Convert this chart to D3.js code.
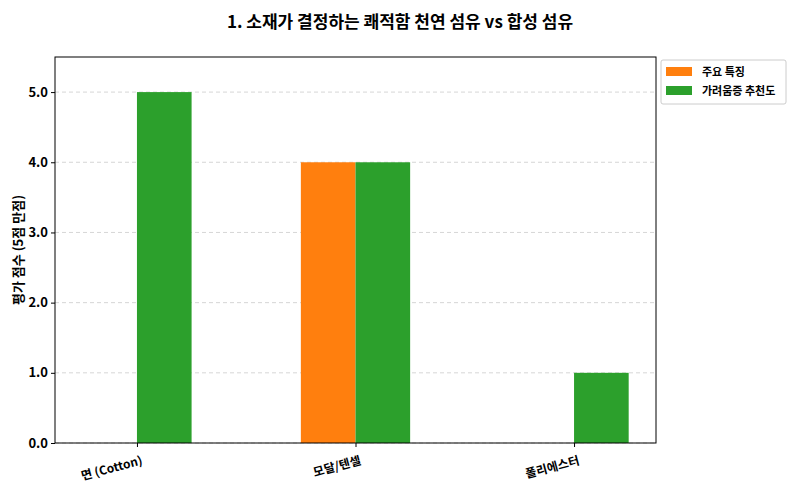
<!DOCTYPE html>
<html><head><meta charset="utf-8">
<script src="https://cdn.jsdelivr.net/npm/d3@7"></script>
<style>body{margin:0;background:#fff}text{font-family:"Noto Sans CJK KR","Noto Sans",sans-serif}</style>
</head><body>
<svg id="c" width="800" height="500"></svg>
<script>
const categories = ["면 (Cotton)", "모달/텐셀", "폴리에스터"];
const seriesNames = ["주요 특징", "가려움증 추천도"];
const featureValues = [0, 4, 0];
const itchValues = [5, 4, 1];
const yTicks = [0, 1, 2, 3, 4, 5];
const colors = ["#ff7f0e", "#2ca02c"];

const svg = d3.select("#c");
const L = 55, R = 656, T = 57, B = 443;
const x = d3.scaleLinear().domain([-0.375, 2.375]).range([L, R]);
const y = d3.scaleLinear().domain([0, 5.5]).range([B, T]);
const w = 0.25;

svg.append("g").selectAll("line").data(yTicks).join("line")
  .attr("x1", L).attr("x2", R).attr("y1", d => y(d)).attr("y2", d => y(d))
  .attr("stroke", "#ccc").attr("stroke-dasharray", "4,3").attr("stroke-width", 0.8);

const series = [featureValues, itchValues];
series.forEach((vals, si) => {
  svg.append("g").selectAll("rect").data(vals).join("rect")
    .attr("x", (d, i) => x(i + (si === 0 ? -w : 0)))
    .attr("width", x(w) - x(0))
    .attr("y", d => y(d)).attr("height", d => B - y(d))
    .attr("fill", colors[si]);
});

svg.append("rect").attr("x", L).attr("y", T).attr("width", R - L).attr("height", B - T)
  .attr("fill", "none").attr("stroke", "#000").attr("stroke-width", 1);

const ya = svg.append("g").attr("transform", `translate(${L},0)`)
  .call(d3.axisLeft(y).tickValues(yTicks).tickSize(4).tickSizeOuter(0));
ya.select(".domain").remove();
ya.selectAll("text").attr("font-size", 13).attr("fill", "#000").attr("font-weight", "bold");

const xa = svg.append("g").attr("transform", `translate(0,${B})`)
  .call(d3.axisBottom(x).tickValues([0, 1, 2]).tickFormat(i => categories[i]).tickSize(4).tickSizeOuter(0));
xa.select(".domain").remove();
xa.selectAll("text").attr("font-size", 12).attr("font-weight", "bold").attr("fill", "#000")
  .attr("text-anchor", "end").attr("dy", "0.9em").attr("dx", "0")
  .attr("transform", "rotate(-15) translate(0,4)");

svg.append("text").attr("x", 400).attr("y", 28).attr("text-anchor", "middle")
  .attr("font-size", 17).attr("font-weight", "bold").text("1. 소재가 결정하는 쾌적함 천연 섬유 vs 합성 섬유");

svg.append("text").attr("transform", `translate(23,${(T + B) / 2}) rotate(-90)`)
  .attr("text-anchor", "middle").attr("font-size", 13).attr("font-weight", "bold")
  .text("평가 점수 (5점 만점)");

const lg = svg.append("g");
lg.append("rect").attr("x", 661).attr("y", 60).attr("width", 125).attr("height", 44)
  .attr("fill", "#fff").attr("stroke", "#ccc").attr("rx", 2);
seriesNames.forEach((n, i) => {
  lg.append("rect").attr("x", 666).attr("y", 67 + i * 19).attr("width", 26).attr("height", 9).attr("fill", colors[i]);
  lg.append("text").attr("x", 702).attr("y", 76 + i * 19).attr("font-size", 11).attr("font-weight", "bold").text(n);
});
</script>
</body></html>
